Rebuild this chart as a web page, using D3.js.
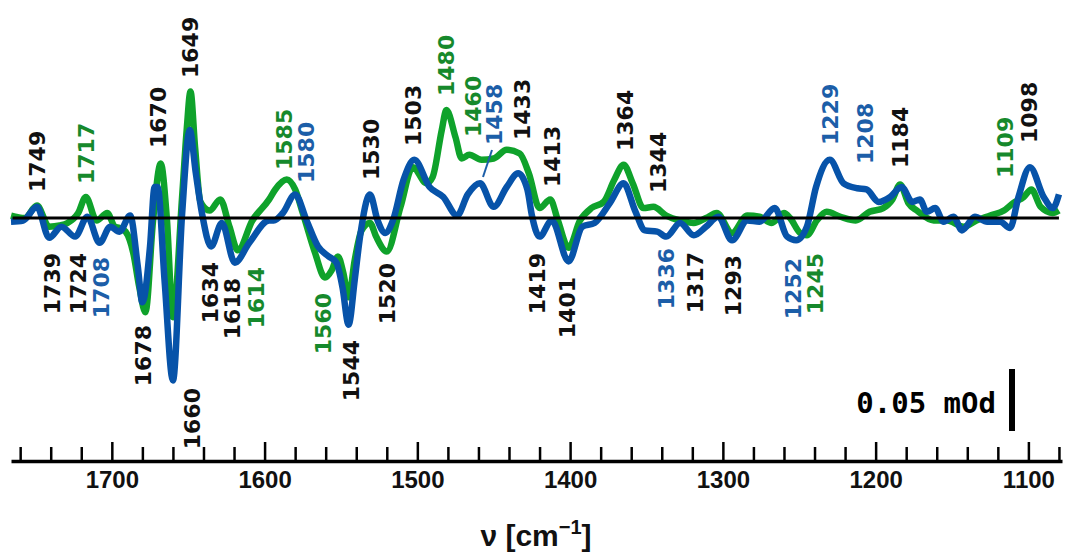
<!DOCTYPE html>
<html>
<head>
<meta charset="utf-8">
<script src="https://cdn.jsdelivr.net/npm/d3@7"></script>
<style>
  body { margin: 0; background: #fff; }
  svg { display: block; }
</style>
</head>
<body>
<script>
//Spectra, wavenumber [cm-1] and difference absorbance [10^-3 mOD]
var wnGreen = [1766,1757,1749,1741,1734,1729,1722,1717,1710,1703,1698,1695,1691,1686,1682,1678,1673,1668,1664,1660,
  1654,1651,1648.5,1645.5,1642,1636,1629,1623,1617.5,1608,1597,1593,1585.5,1580,1575,1567,1560.5,1556,1552,1548.5,
  1545,1541,1536.5,1531,1527,1520,1511,1503,1494,1490,1484,1481,1475,1471,1466,1458,1450,1441.5,1433,1427,
  1420,1413,1408,1401,1393.5,1386,1378,1371,1365,1359,1352,1345.5,1337,1328,1319,1311,1304,1294,1284,1276,
  1268,1260,1256,1249.5,1245,1238.5,1232,1223,1213,1204,1195,1189,1184,1178.5,1173,1162,1153,1142.5,1134,1125,
  1116,1110,1103,1098,1092,1084,1080];
var odGreen = [2,0,10,-7,-6,-4,4,17,-2,4,-7,-8,-11,-28,-56,-76,-2,44,0,-80,
  17,71,102,57,13,6,15,-7,-26,-2,15,23,31,23,4,-28,-48,-42,-31,-44,
  -64,-34,-10,-4,-15,-27,9,41,28,33,71,87,65,48,51,47,48,55,52,36,
  8,15,-2,-24,-2,8,13,31,43,28,8,9,2,-2,-4,0,4,-12,2,1,
  -4,4,0,-12,-14,-2,5,1,-2,5,8,15,27,12,6,-2,-2,-7,-2,2,
  6,12,17,23,9,4,6];

var wnBlue = [1766,1758,1749,1741,1733,1724,1716,1708,1701,1695,1688,1683,1680,1675,1672,1670,1665.5,1660,1654,1649,
  1645,1641,1635,1628,1619.5,1610,1597,1594,1588,1580,1572.5,1565,1558,1553,1549,1545,1541,1537.5,1531,1526,
  1521,1516,1509,1502,1492,1483,1474,1467,1459,1450,1441.5,1434,1428,1425,1420,1412,1401,1392,1384,1374,
  1365,1357.5,1351,1343,1337,1328,1319,1311,1303,1294,1284,1276,1266,1258,1252,1245,1239,1230,1221,1212,
  1206,1198,1190.5,1183,1176,1171,1166.5,1161,1155.5,1149,1143.5,1135,1127,1118.5,1112,1106.5,1099,1090,1084,1080];
var odBlue = [-3,-2,9,-16,-7,-15,1,-20,-7,-11,2,-39,-68,-23,25,25,-50,-131,3,71,
  36,4,-23,-4,-36,-20,-2,-2,4,19,-2,-23,-31,-36,-56,-86,-50,-15,19,-2,
  -12,-2,31,47,25,17,2,19,28,9,25,36,23,2,-15,-2,-35,-7,-4,12,
  28,6,-10,-11,-15,-4,-14,-7,1,-18,-2,-3,8,-15,-18,-7,25,47,28,24,
  23,13,17,25,13,15,5,8,-3,1,-10,1,-3,-3,-8,17,41,17,8,19];

//Peak labels: text, colour key, above (1) or below (-1) the curves
var peakText = ["1749","1717","1670","1649","1585","1580","1530","1503","1480","1460","1458","1433","1413","1364","1344","1229","1208","1184","1109","1098",
  "1739","1724","1708","1678","1660","1634","1618","1614","1560","1544","1520","1419","1401","1336","1317","1293","1252","1245"];
var peakColor = ["k","g","k","k","g","b","k","k","g","g","b","k","k","k","k","b","b","k","g","k",
  "k","k","b","k","k","k","k","g","g","k","k","k","k","b","k","k","b","g"];
var peakSide = [1,1,1,1,1,1,1,1,1,1,1,1,1,1,1,1,1,1,1,1,
  -1,-1,-1,-1,-1,-1,-1,-1,-1,-1,-1,-1,-1,-1,-1,-1,-1,-1];

//Axis ticks
var majorTicks = [1700, 1600, 1500, 1400, 1300, 1200, 1100];
var minorTicks = d3.range(1760, 1079, -20).filter(function(d) { return d % 100 != 0; });
var scaleBarValue = 50;  // 0.05 mOd
var scaleBarText = "0.05 mOd";

//Label layout (pixel nudge from x(wn), end of text in px)
var labelDx = [0,0,0,0,-3,11,0,0,-2,-5,13,2,2,0,2,-1,2,0,-10,-2,
  0,3,1,-2,19,-3,-5,13,-3,1,0,-4,-2,-2,-2,0,-3,8];
var labelY = [192,184,148,78,170,183,180,146,96,137,145,140,187,151,193,145,164,168,178,143,
  253,253,257,325,388,262,278,267,293,340,263,253,277,248,252,255,258,253];

var width = 1067, height = 556;
var lineColor = { g: "#0fa22b", b: "#0753a9" };
var textColor = { g: "#16892c", b: "#1c5ea8", k: "#111" };

var svg = d3.select("body")
    .append("svg")
    .attr("width", width)
    .attr("height", height);

var x = d3.scaleLinear()
    .domain([1766, 1078])
    .range([11, 1062]);

var y = d3.scaleLinear()
    .domain([-150, 150])
    .range([218 + 186, 218 - 186]);

var line = d3.line()
    .x(function(d) { return x(d[0]); })
    .y(function(d) { return y(d[1]); })
    .curve(d3.curveMonotoneX);

var green = d3.zip(wnGreen, odGreen);
var blue = d3.zip(wnBlue, odBlue);

//Draw spectra, blue on top
svg.append("path")
    .datum(green)
    .attr("fill", "none")
    .attr("stroke", lineColor.g)
    .attr("stroke-width", 6.5)
    .attr("stroke-linejoin", "round")
    .attr("d", line);

svg.append("path")
    .datum(blue)
    .attr("fill", "none")
    .attr("stroke", lineColor.b)
    .attr("stroke-width", 6.5)
    .attr("stroke-linejoin", "round")
    .attr("d", line);

//Zero line
svg.append("line")
    .attr("x1", x(1765))
    .attr("x2", x(1080))
    .attr("y1", y(0))
    .attr("y2", y(0))
    .attr("stroke", "#000")
    .attr("stroke-width", 3);

//Peak labels, rotated
var labels = svg.append("g")
    .attr("font-family", "DejaVu Sans")
    .attr("font-weight", "bold")
    .attr("font-size", 22);

labels.selectAll("text")
    .data(peakText)
    .enter().append("text")
    .attr("transform", function(d, i) {
        return "translate(" + (x(+d) + labelDx[i]) + "," + labelY[i] + ") rotate(-90)";
    })
    .attr("dy", "0.36em")
    .attr("text-anchor", function(d, i) { return peakSide[i] > 0 ? "start" : "end"; })
    .attr("fill", function(d, i) { return textColor[peakColor[i]]; })
    .text(function(d) { return d; });

//Leader for 1458
svg.append("line")
    .attr("x1", 483).attr("y1", 177)
    .attr("x2", 492).attr("y2", 150)
    .attr("stroke", textColor.b)
    .attr("stroke-width", 2);

//Scale bar
svg.append("line")
    .attr("x1", 1012).attr("x2", 1012)
    .attr("y1", 431)
    .attr("y2", 431 - (y(0) - y(scaleBarValue)))
    .attr("stroke", "#000")
    .attr("stroke-width", 6);

svg.append("text")
    .attr("x", 996)
    .attr("y", 413)
    .attr("text-anchor", "end")
    .attr("font-family", "DejaVu Sans Mono")
    .attr("font-weight", "bold")
    .attr("font-size", 29)
    .text(scaleBarText);

//X axis, ticks pointing up
var axisY = 461;
var gMinor = svg.append("g")
    .attr("transform", "translate(0," + axisY + ")")
    .call(d3.axisBottom(x).tickValues(minorTicks).tickSizeInner(-14).tickSizeOuter(0).tickFormat(""));
gMinor.select(".domain").remove();
gMinor.selectAll("line").attr("stroke-width", 2.5);

var gMajor = svg.append("g")
    .attr("transform", "translate(0," + axisY + ")")
    .call(d3.axisBottom(x).tickValues(majorTicks).tickSizeInner(-19).tickSizeOuter(0)
        .tickPadding(10).tickFormat(d3.format("d")));
gMajor.select(".domain").attr("stroke-width", 3.5);
gMajor.selectAll("line").attr("stroke-width", 2.5);
gMajor.selectAll("text")
    .attr("font-family", "Liberation Sans")
    .attr("font-weight", "bold")
    .attr("font-size", 24)
    .attr("fill", "#111");

//Axis title
var title = svg.append("text")
    .attr("x", 536)
    .attr("y", 546)
    .attr("text-anchor", "middle")
    .attr("font-family", "Liberation Sans")
    .attr("font-weight", "bold")
    .attr("font-size", 30)
    .attr("fill", "#111");
title.append("tspan").text("\u03bd [cm");
title.append("tspan").attr("dy", -12).attr("font-size", 20).text("\u22121");
title.append("tspan").attr("dy", 12).text("]");
</script>
</body>
</html>
